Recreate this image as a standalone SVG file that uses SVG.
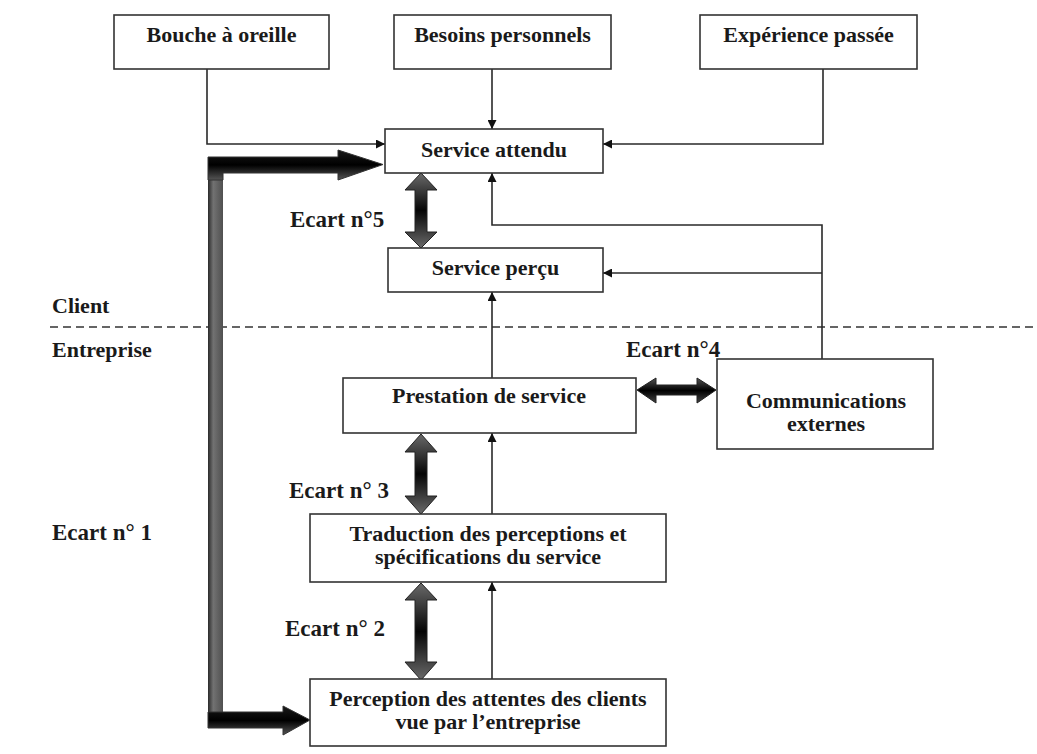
<svg xmlns="http://www.w3.org/2000/svg" width="1037" height="754" viewBox="0 0 1037 754">
  <defs>
    <style>
      .box { fill: #ffffff; stroke: #333333; stroke-width: 1.6; }
      .lbl { font-family: "Liberation Serif", "Times New Roman", serif; font-weight: bold; font-size: 22px; fill: #1a1a1a; }
      .gapl { font-size: 23px; }
      .mid { text-anchor: middle; }
      .wire { fill: none; stroke: #2a2a2a; stroke-width: 1.6; }
      .dash { fill: none; stroke: #333333; stroke-width: 1.6; stroke-dasharray: 8 5; }
      .gap { stroke: #222222; stroke-width: 1; }
    </style>
    <marker id="tip" viewBox="0 0 10 10" refX="10" refY="5" markerWidth="10" markerHeight="9" markerUnits="userSpaceOnUse" orient="auto">
      <path d="M0,0 L10,5 L0,10 Z" fill="#111111"/>
    </marker>
    <!-- shading for the big L-shaped arrow -->
    <linearGradient id="barV" x1="0" y1="0" x2="1" y2="0">
      <stop offset="0" stop-color="#2a2a2a"/>
      <stop offset="0.35" stop-color="#727272"/>
      <stop offset="1" stop-color="#505050"/>
    </linearGradient>
    <linearGradient id="barH" x1="0" y1="0" x2="0" y2="1">
      <stop offset="0" stop-color="#1a1a1a"/>
      <stop offset="0.5" stop-color="#000000"/>
      <stop offset="1" stop-color="#555555"/>
    </linearGradient>
    <!-- shading for the vertical two-headed gap arrows -->
    <linearGradient id="gapV" x1="0" y1="0" x2="0" y2="1">
      <stop offset="0" stop-color="#6a6a6a"/>
      <stop offset="0.5" stop-color="#050505"/>
      <stop offset="1" stop-color="#6a6a6a"/>
    </linearGradient>
    <linearGradient id="gapH" x1="0" y1="0" x2="0" y2="1">
      <stop offset="0" stop-color="#555555"/>
      <stop offset="0.5" stop-color="#000000"/>
      <stop offset="1" stop-color="#444444"/>
    </linearGradient>
  </defs>

  <!-- Client / Entreprise separator -->
  <line class="dash" x1="50" y1="327" x2="1037" y2="327"/>
  <text class="lbl" x="52" y="313">Client</text>
  <text class="lbl" x="52" y="357">Entreprise</text>

  <!-- connectors -->
  <g id="connectors">
    <polyline class="wire" points="207,69 207,144 385,144" marker-end="url(#tip)"/>
    <line class="wire" x1="492" y1="69" x2="492" y2="129" marker-end="url(#tip)"/>
    <polyline class="wire" points="823,69 823,144 603,144" marker-end="url(#tip)"/>
    <polyline class="wire" points="822,359 822,225 492,225 492,173" marker-end="url(#tip)"/>
    <line class="wire" x1="822" y1="273" x2="603" y2="273" marker-end="url(#tip)"/>
    <line class="wire" x1="492" y1="378" x2="492" y2="292" marker-end="url(#tip)"/>
    <line class="wire" x1="492" y1="514" x2="492" y2="433" marker-end="url(#tip)"/>
    <line class="wire" x1="492" y1="680" x2="492" y2="582" marker-end="url(#tip)"/>

    <!-- gap n°1: L-shaped arrow feeding both ends -->
    <g id="ecart1">
      <rect x="208" y="165" width="15" height="556" fill="url(#barV)"/>
      <path d="M208,157 L338,157 L338,150 L383,164.5 L338,180 L338,173 L223,173 L223,180 L208,180 Z" fill="url(#barH)" stroke="#333333" stroke-width="1"/>
      <path d="M208,712 L283,712 L283,706 L310,720 L283,735 L283,728 L208,728 Z" fill="url(#barH)" stroke="#333333" stroke-width="1"/>
    </g>

    <!-- gap n°5 -->
    <path class="gap" fill="url(#gapV)" d="M421,173 L437,190 L427,190 L427,232 L437,232 L421,248 L405,232 L415,232 L415,190 L405,190 Z"/>
    <!-- gap n°3 -->
    <path class="gap" fill="url(#gapV)" d="M421,434 L437,452 L427,452 L427,496 L437,496 L421,514 L405,496 L415,496 L415,452 L405,452 Z"/>
    <!-- gap n°2 -->
    <path class="gap" fill="url(#gapV)" d="M421,583 L437,600 L427,600 L427,662 L437,662 L421,680 L405,662 L415,662 L415,600 L405,600 Z"/>
    <!-- gap n°4 -->
    <path class="gap" fill="url(#gapH)" d="M637,390 L656,378 L656,385 L697,385 L697,378 L716,390 L697,403 L697,395 L656,395 L656,403 Z"/>
  </g>

  <!-- gap labels -->
  <text class="lbl gapl" x="290" y="227">Ecart n°5</text>
  <text class="lbl gapl" x="626" y="357">Ecart n°4</text>
  <text class="lbl gapl" x="289" y="498">Ecart n° 3</text>
  <text class="lbl gapl" x="285" y="636">Ecart n° 2</text>
  <text class="lbl gapl" x="52" y="540">Ecart n° 1</text>

  <!-- nodes -->
  <g id="bouche">
    <rect class="box" x="114" y="15" width="215" height="54"/>
    <text class="lbl mid" x="221.5" y="42">Bouche à oreille</text>
  </g>
  <g id="besoins">
    <rect class="box" x="394" y="15" width="217" height="54"/>
    <text class="lbl mid" x="502.5" y="42">Besoins personnels</text>
  </g>
  <g id="experience">
    <rect class="box" x="700" y="15" width="217" height="54"/>
    <text class="lbl mid" x="808.5" y="42">Expérience passée</text>
  </g>
  <g id="service-attendu">
    <rect class="box" x="385" y="129" width="218" height="44"/>
    <text class="lbl mid" x="494" y="157">Service attendu</text>
  </g>
  <g id="service-percu">
    <rect class="box" x="388" y="248" width="215" height="44"/>
    <text class="lbl mid" x="495.5" y="275">Service perçu</text>
  </g>
  <g id="prestation">
    <rect class="box" x="343" y="378" width="293" height="55"/>
    <text class="lbl mid" x="489" y="403">Prestation de service</text>
  </g>
  <g id="communications">
    <rect class="box" x="717" y="359" width="216" height="90"/>
    <text class="lbl mid" x="826" y="408">Communications</text>
    <text class="lbl mid" x="826" y="431">externes</text>
  </g>
  <g id="traduction">
    <rect class="box" x="310" y="514" width="356" height="68"/>
    <text class="lbl mid" x="488" y="541">Traduction des perceptions et</text>
    <text class="lbl mid" x="488" y="564">spécifications du service</text>
  </g>
  <g id="perception">
    <rect class="box" x="310" y="679" width="356" height="67"/>
    <text class="lbl mid" x="488" y="706">Perception des attentes des clients</text>
    <text class="lbl mid" x="488" y="729">vue par l’entreprise</text>
  </g>
</svg>
